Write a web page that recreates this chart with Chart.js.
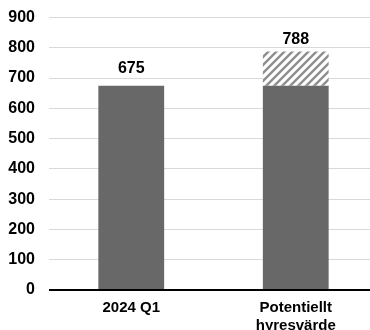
<!DOCTYPE html>
<html>
<head>
<meta charset="utf-8">
<script src="https://cdn.jsdelivr.net/npm/chart.js@4/dist/chart.umd.min.js"></script>
<style>
  html, body { margin: 0; padding: 0; background: #fff; overflow: hidden; }
  #wrap { width: 370px; height: 330px; overflow: hidden; position: relative; }
  #box { width: 378px; height: 330px; position: absolute; left: 0; top: 0; }
</style>
</head>
<body>
<div id="wrap"><div id="box"><canvas id="c"></canvas></div></div>
<script>
// Rental value, MSEK
const categories = ['2024 Q1', ['Potentiellt', 'hyresvärde']];
const currentRent = [675, 675];
const potentialRent = [675, 788];
const yTicks = [0, 100, 200, 300, 400, 500, 600, 700, 800, 900];

const FONT = '"Liberation Sans", Arial, sans-serif';

// Diagonal hatch for the uplift portion
function hatchPattern() {
  const s = 8;
  const t = document.createElement('canvas');
  t.width = s; t.height = s;
  const g = t.getContext('2d');
  g.fillStyle = '#ffffff';
  g.fillRect(0, 0, s, s);
  g.strokeStyle = '#8f8f8f';
  g.lineWidth = 2.4;
  g.beginPath();
  g.moveTo(-2, s + 2); g.lineTo(s + 2, -2);
  g.moveTo(-2, 2); g.lineTo(2, -2);
  g.moveTo(s - 2, s + 2); g.lineTo(s + 2, s - 2);
  g.stroke();
  return g.createPattern(t, 'repeat');
}

// Value labels above each column total
const totalLabels = {
  id: 'totalLabels',
  afterDatasetsDraw(chart, args, opts) {
    const ctx = chart.ctx;
    const meta = chart.getDatasetMeta(0);
    const y = chart.scales.y;
    ctx.save();
    ctx.font = 'bold 16px ' + FONT;
    ctx.fillStyle = '#000';
    ctx.textAlign = 'center';
    ctx.textBaseline = 'alphabetic';
    potentialRent.forEach((v, i) => {
      const x = meta.data[i].x;
      ctx.fillText(String(v), x, y.getPixelForValue(v) - opts.offsets[i]);
    });
    ctx.restore();
  }
};

// Heavier baseline at zero
const zeroLine = {
  id: 'zeroLine',
  afterDatasetsDraw(chart) {
    const ctx = chart.ctx;
    const a = chart.chartArea;
    const y0 = chart.scales.y.getPixelForValue(0);
    ctx.save();
    ctx.strokeStyle = '#000';
    ctx.lineWidth = 2.2;
    ctx.beginPath();
    ctx.moveTo(a.left, y0);
    ctx.lineTo(a.right, y0);
    ctx.stroke();
    ctx.restore();
  }
};

new Chart(document.getElementById('c'), {
  type: 'bar',
  data: {
    labels: categories,
    datasets: [
      {
        label: 'Hyresvärde',
        data: currentRent,
        backgroundColor: '#676867',
        barPercentage: 0.4,
        categoryPercentage: 1.0,
        grouped: false,
        order: 1
      },
      {
        label: 'Potential',
        data: potentialRent.map((v, i) => i === 0 ? null : [currentRent[i], v]),
        backgroundColor: hatchPattern(),
        barPercentage: 0.4,
        categoryPercentage: 1.0,
        grouped: false,
        order: 2
      }
    ]
  },
  options: {
    responsive: true,
    maintainAspectRatio: false,
    animation: false,
    events: [],
    layout: { padding: { top: 0, left: 0, right: 0, bottom: 0 } },
    plugins: {
      legend: { display: false },
      tooltip: { enabled: false },
      totalLabels: { offsets: [12.5, 7] }
    },
    scales: {
      x: {
        afterFit(scale) { scale.height = 40; },
        grid: { display: false, drawTicks: false },
        border: { display: false },
        ticks: {
          color: '#000',
          font: { family: FONT, size: 15, weight: 'bold', lineHeight: 1.2 },
          padding: 9,
          maxRotation: 0,
          autoSkip: false
        }
      },
      y: {
        min: 0,
        max: 900,
        afterBuildTicks(scale) { scale.ticks = yTicks.map(v => ({ value: v })); },
        afterFit(scale) { scale.width = 49; scale.paddingTop = 17.5; },
        grid: { color: '#d9d9d9', lineWidth: 1, drawTicks: false },
        border: { display: false },
        ticks: {
          color: '#000',
          font: { family: FONT, size: 16, weight: 'bold' },
          padding: 14
        }
      }
    }
  },
  plugins: [totalLabels, zeroLine]
});
</script>
</body>
</html>
